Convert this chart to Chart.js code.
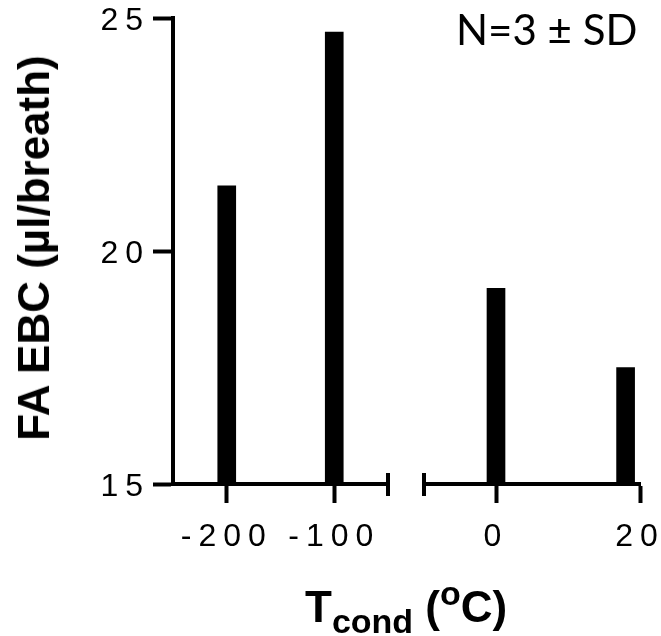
<!DOCTYPE html>
<html>
<head>
<meta charset="utf-8">
<script src="https://cdn.jsdelivr.net/npm/chart.js@4.4.1/dist/chart.umd.min.js"></script>
<style>
  html, body { margin: 0; padding: 0; background: #fff; }
  #wrap { position: relative; width: 661px; height: 636px; overflow: hidden; }
  canvas { position: absolute; top: 0; }
  #leftChart { left: 0; }
  #rightChart { left: 405px; }
  .label { position: absolute; color: #000; white-space: nowrap; }
  #yTitle {
    left: 34px; top: 247.5px; font: bold 44px "Liberation Sans", Arial, sans-serif; line-height: 44px;
    transform: translate(-50%, -50%) rotate(-90deg);
  }
  #xTitle { left: 305px; top: 585px; font: bold 44px "Liberation Sans", Arial, sans-serif; line-height: 44px; }
  #xTitle .sub { font-size: 34px; position: relative; top: 11px; }
  #xTitle .sup { font-size: 34px; position: relative; top: -17px; }
  #note { left: 456px; top: 4px; font: 42px Lato, "Open Sans", sans-serif; line-height: 50px; }
</style>
</head>
<body>
<div id="wrap">
  <canvas id="leftChart" width="405" height="636"></canvas>
  <canvas id="rightChart" width="256" height="636"></canvas>
  <div class="label" id="yTitle">FA EBC (µl/breath)</div>
  <div class="label" id="xTitle">T<span class="sub">cond</span> (<span class="sup">o</span>C)</div>
  <div class="label" id="note">N=3 ± SD</div>
</div>
<script>
// condenser temperature (°C) and fatty acid content of EBC
const lowTemps = [-200, -100];
const lowValues = [21.4, 24.7];
const highTemps = [0, 18];
const highValues = [19.2, 17.5];

const yTicks = [15, 20, 25];
const lowTicks = [-200, -100];
const highTicks = [0, 20];

const lowRange = [-250, -50];
const highRange = [-10, 20];

const tickFont = { family: '"Liberation Sans", Arial, sans-serif', size: 32, lineHeight: 1 };

// spaced-out tick numbers
const spacing = {
  id: 'spacing',
  beforeUpdate(chart) { chart.ctx.letterSpacing = '7px'; },
  beforeDraw(chart) { chart.ctx.letterSpacing = '7px'; }
};

// short vertical bar where the x axis is broken
function breakMark(side) {
  return {
    id: 'breakMark',
    afterDatasetsDraw(chart) {
      const x = chart.scales.x;
      const px = x.getPixelForValue(side === 'end' ? x.max : x.min);
      const y = chart.chartArea.bottom;
      const ctx = chart.ctx;
      ctx.save();
      ctx.strokeStyle = '#000';
      ctx.lineWidth = 4;
      ctx.beginPath();
      ctx.moveTo(px, y - 11);
      ctx.lineTo(px, y + 12);
      ctx.stroke();
      ctx.restore();
    }
  };
}

function xAxis(range, ticks) {
  return {
    type: 'linear',
    offset: false,
    min: range[0],
    max: range[1],
    afterBuildTicks(scale) { scale.ticks = ticks.map(v => ({ value: v })); },
    afterFit(scale) { scale.height = 152; scale.paddingLeft = 0; scale.paddingRight = 0; },
    border: { display: true, color: '#000', width: 4 },
    grid: { offset: false, drawOnChartArea: false, drawTicks: true, tickLength: 19, tickColor: '#000', tickWidth: 4 },
    ticks: { color: '#000', font: tickFont, padding: 18, maxRotation: 0, autoSkip: false }
  };
}

function yAxis(show) {
  return {
    type: 'linear',
    display: show,
    min: yTicks[0],
    max: yTicks[yTicks.length - 1],
    afterBuildTicks(scale) { scale.ticks = yTicks.map(v => ({ value: v })); },
    afterFit(scale) {
      if (show) scale.width = 173;
      scale.paddingTop = 0;
      scale.paddingBottom = 0;
    },
    border: { display: true, color: '#000', width: 4 },
    grid: { drawOnChartArea: false, drawTicks: true, tickLength: 20, tickColor: '#000', tickWidth: 4 },
    ticks: { color: '#000', font: tickFont, padding: 3, labelOffset: 3 }
  };
}

function barChart(id, temps, values, range, ticks, showY, padding, side) {
  return new Chart(document.getElementById(id), {
    type: 'bar',
    data: {
      datasets: [{
        data: temps.map((t, i) => ({ x: t, y: values[i] })),
        backgroundColor: '#000',
        barThickness: 18
      }]
    },
    options: {
      responsive: false,
      animation: false,
      layout: { padding: padding },
      scales: { x: xAxis(range, ticks), y: yAxis(showY) },
      plugins: { legend: { display: false }, tooltip: { enabled: false } }
    },
    plugins: [spacing, breakMark(side)]
  });
}

barChart('leftChart', lowTemps, lowValues, lowRange, lowTicks, true,
  { top: 18, right: 17, left: 0, bottom: 0 }, 'end');
barChart('rightChart', highTemps, highValues, highRange, highTicks, false,
  { top: 18, right: 21, left: 19, bottom: 0 }, 'start');
</script>
</body>
</html>
